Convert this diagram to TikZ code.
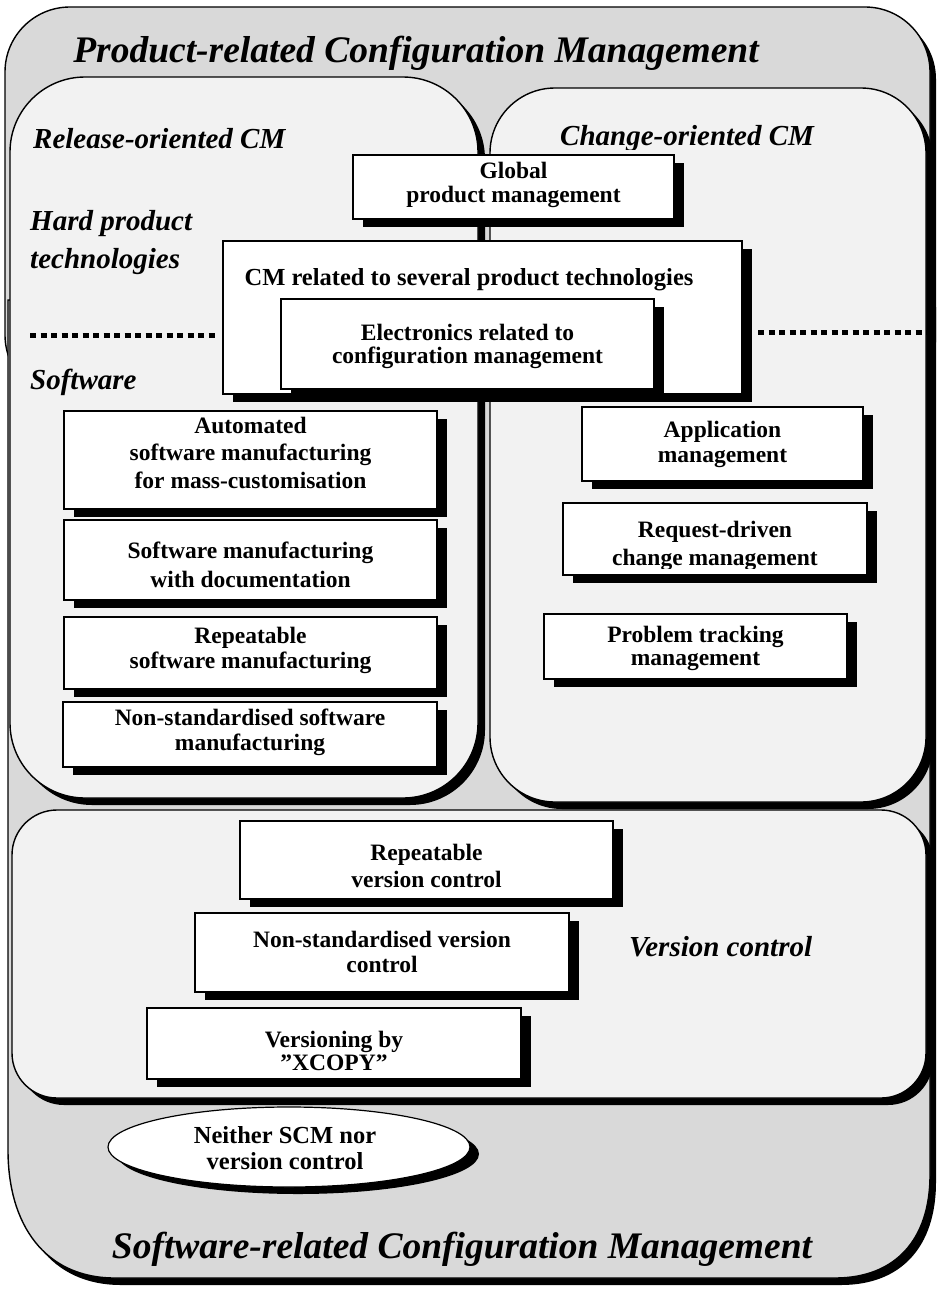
\documentclass[tikz,border=0pt]{standalone}
\usepackage{fontspec}
\setmainfont{Liberation Serif}
\usetikzlibrary{shapes.geometric,shadows}
\definecolor{outergray}{HTML}{D9D9D9}
\definecolor{innergray}{HTML}{F2F2F2}
\begin{document}
\begin{tikzpicture}[x=1pt,y=-1pt,
  cbox/.style={draw=black, line width=1.2pt, fill=white, inner sep=0pt,
    drop shadow={shadow xshift=10pt, shadow yshift=-8pt, fill=black, opacity=1}},
  area/.style={draw=black, line width=1.4pt, fill=innergray, inner sep=0pt,
    drop shadow={shadow xshift=7pt, shadow yshift=-7pt, fill=black, opacity=1}},
  shell/.style={fill=outergray, draw=black, line width=1.4pt,
    drop shadow={shadow xshift=6pt, shadow yshift=-7pt, fill=black, opacity=1}},
  btxt/.style={font=\bfseries\fontsize{23.5}{#1}\selectfont, align=center, anchor=base, inner sep=0pt},
  lbl/.style={font=\bfseries\itshape\fontsize{29}{38}\selectfont, anchor=base west, inner sep=0pt, align=left},
  ttl/.style={font=\bfseries\itshape\fontsize{37.5}{40}\selectfont, anchor=base, inner sep=0pt},
  sep/.style={line width=5pt, dash pattern=on 6pt off 4.5pt},
]
\useasboundingbox (0,0) rectangle (939,1290);

% product-related area (upper gray shell)
\path[shell, rounded corners=65pt] (5,7) rectangle (930,400);

% software-related area (lower gray shell)
\path[shell]
  (8,300) -- (8,1150) .. controls (8,1225) and (45,1278) .. (115,1278)
  -- (835,1278) .. controls (895,1278) and (930,1240) .. (930,1175)
  -- (930,300) -- cycle;

% the three inner regions
\node[area, rounded corners=75pt, minimum width=468pt, minimum height=721pt] (rel) at (244,437.5) {};
\node[area, rounded corners=65pt, minimum width=436pt, minimum height=714pt] (chg) at (708,445) {};
\node[area, rounded corners=45pt, minimum width=914pt, minimum height=288pt] (vc) at (469,954) {};

% region labels (multi-line labels are placed by their last baseline)
\node[ttl] (ptitle) at (416,63) {Product-related Configuration Management};
\node[lbl] (lrel) at (33,148) {Release-oriented CM};
\begin{scope}
  \clip (490,100) rectangle (930,149);
  \node[lbl] (lchg) at (560,145) {Change-oriented CM};
\end{scope}
\node[lbl] (lhard) at (30,268) {Hard product\\technologies};
\node[lbl] (lsw) at (30,389) {Software};
\node[lbl] (lvc) at (629,956) {Version control};
\node[ttl] (stitle) at (462,1258) {Software-related Configuration Management};

% separators between hard products and software
\coordinate (sepL1) at (30,335);
\coordinate (sepL2) at (218,335);
\coordinate (sepR1) at (758,332);
\coordinate (sepR2) at (935,332);
\draw[sep] (sepL1) -- (sepL2);
\draw[sep] (sepR1) -- (sepR2);

% product level boxes
\node[cbox, minimum width=321pt, minimum height=64pt] (global) at (513.5,187) {};
\node[btxt=24] (tglobal) at (513.5,202) {Global\\product management};

\node[cbox, minimum width=519pt, minimum height=153pt] (cmrel) at (482.5,317.5) {};
\node[font=\bfseries\fontsize{24.5}{26}\selectfont, anchor=base, inner sep=0pt] (tcmrel) at (469,285) {CM related to several product technologies};

\node[cbox, minimum width=373pt, minimum height=90pt] (elec) at (467.5,344) {};
\node[btxt=23] (telec) at (467.5,363) {Electronics related to\\configuration management};

% release-oriented software levels
\node[cbox, minimum width=373pt, minimum height=98pt] (auto) at (250.5,460) {};
\node[btxt=27.5] (tauto) at (250.5,488) {Automated\\software manufacturing\\for mass-customisation};

\node[cbox, minimum width=373pt, minimum height=80pt] (swdoc) at (250.5,560) {};
\node[btxt=29] (tswdoc) at (250.5,587) {Software manufacturing\\with documentation};

\node[cbox, minimum width=373pt, minimum height=72pt] (repsw) at (250.5,653) {};
\node[btxt=25] (trepsw) at (250.5,668) {Repeatable\\software manufacturing};

\node[cbox, minimum width=374pt, minimum height=65pt] (nonsw) at (250,734.5) {};
\node[btxt=25] (tnonsw) at (250,750) {Non-standardised software\\manufacturing};

% change-oriented levels
\node[cbox, minimum width=281pt, minimum height=74pt] (app) at (722.5,444) {};
\node[btxt=25] (tapp) at (722.5,462) {Application\\management};

\node[cbox, minimum width=304pt, minimum height=72pt] (req) at (715,539) {};
\begin{scope}
  \clip (560,500) rectangle (880,568);
  \node[btxt=28] (treq) at (715,565) {Request-driven\\change management};
\end{scope}

\node[cbox, minimum width=303pt, minimum height=65pt] (prob) at (695.5,646.5) {};
\node[btxt=23] (tprob) at (695.5,665) {Problem tracking\\management};

% version control levels
\node[cbox, minimum width=373pt, minimum height=78pt] (repvc) at (426.5,860) {};
\node[btxt=27] (trepvc) at (426.5,887) {Repeatable\\version control};

\node[cbox, minimum width=374pt, minimum height=79pt] (nonvc) at (382,952.5) {};
\node[btxt=25] (tnonvc) at (382,972) {Non-standardised version\\control};

\node[cbox, minimum width=374pt, minimum height=71pt] (xcopy) at (334,1043.5) {};
\node[btxt=23] (txcopy) at (334,1070) {Versioning by\\''XCOPY''};

% lowest level
\node[ellipse, draw=black, line width=1.2pt, fill=white, inner sep=0pt,
  minimum width=362pt, minimum height=80pt,
  drop shadow={shadow xshift=9pt, shadow yshift=-7pt, fill=black, opacity=1}] (none) at (289,1147) {};
\node[font=\bfseries\fontsize{24.5}{26}\selectfont, align=center, anchor=base, inner sep=0pt] (tnone) at (285,1169) {Neither SCM nor\\version control};

\end{tikzpicture}
\end{document}
